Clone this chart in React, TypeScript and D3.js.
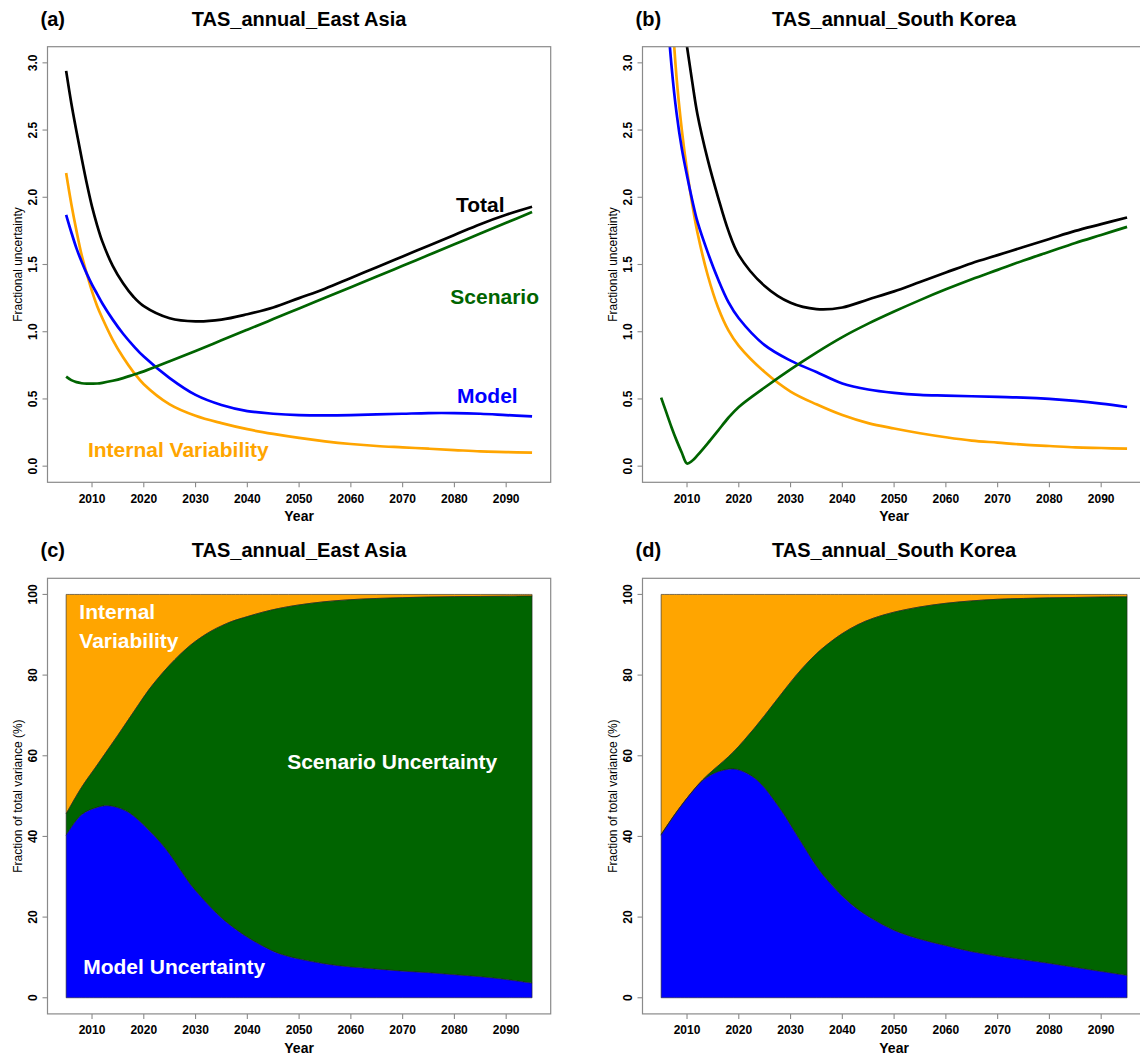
import React from "react";
import * as d3 from "d3";

// ---- Data -----------------------------------------------------------------

// Years at which the fractional-uncertainty curves are sampled
const LINE_YEARS = [
  2005, 2006, 2007, 2008, 2009, 2010, 2011, 2012, 2014, 2016, 2018, 2020, 2025,
  2030, 2035, 2040, 2045, 2050, 2055, 2060, 2065, 2070, 2075, 2080, 2085, 2090, 2095,
];

// East Asia, fractional uncertainty
const EA_TOTAL = [2.94, 2.7, 2.49, 2.29, 2.1, 1.93, 1.79, 1.67, 1.49, 1.36, 1.26, 1.19, 1.1, 1.077, 1.09, 1.13, 1.18, 1.25, 1.32, 1.4, 1.48, 1.56, 1.64, 1.72, 1.8, 1.87, 1.93];
const EA_INTERNAL = [2.18, 1.95, 1.75, 1.57, 1.43, 1.3, 1.19, 1.1, 0.94, 0.81, 0.7, 0.61, 0.46, 0.375, 0.32, 0.275, 0.24, 0.21, 0.185, 0.165, 0.15, 0.14, 0.13, 0.12, 0.11, 0.105, 0.1];
const EA_MODEL = [1.87, 1.74, 1.62, 1.52, 1.43, 1.35, 1.28, 1.21, 1.09, 0.985, 0.895, 0.815, 0.655, 0.53, 0.455, 0.41, 0.39, 0.38, 0.378, 0.38, 0.385, 0.39, 0.395, 0.395, 0.39, 0.38, 0.37];
const EA_SCENARIO = [0.666, 0.64, 0.625, 0.617, 0.614, 0.614, 0.615, 0.62, 0.635, 0.655, 0.68, 0.705, 0.78, 0.857, 0.936, 1.015, 1.094, 1.173, 1.252, 1.331, 1.41, 1.49, 1.57, 1.65, 1.73, 1.81, 1.89];

// South Korea, fractional uncertainty
const SK_TOTAL = [7.2, 5.6, 4.55, 3.8, 3.4, 3.12, 2.86, 2.62, 2.28, 2.0, 1.75, 1.57, 1.34, 1.215, 1.168, 1.18, 1.24, 1.3, 1.37, 1.44, 1.51, 1.57, 1.63, 1.69, 1.75, 1.8, 1.85];
const SK_INTERNAL = [5.5, 4.3, 3.45, 2.88, 2.5, 2.2, 1.95, 1.74, 1.42, 1.18, 1.01, 0.895, 0.7, 0.555, 0.46, 0.38, 0.32, 0.28, 0.245, 0.215, 0.19, 0.175, 0.16, 0.15, 0.14, 0.135, 0.13];
const SK_MODEL = [4.6, 3.5, 2.98, 2.62, 2.36, 2.16, 1.98, 1.82, 1.59, 1.39, 1.22, 1.1, 0.9, 0.785, 0.7, 0.615, 0.57, 0.545, 0.53, 0.525, 0.52, 0.515, 0.51, 0.5, 0.485, 0.465, 0.44];
const SK_SCENARIO = [0.51, 0.4, 0.29, 0.19, 0.1, 0.02, 0.04, 0.08, 0.17, 0.265, 0.36, 0.44, 0.585, 0.72, 0.845, 0.96, 1.06, 1.15, 1.235, 1.315, 1.39, 1.46, 1.53, 1.595, 1.66, 1.72, 1.78];

// Years at which the variance fractions are sampled
const SHARE_YEARS = [
  2005, 2008, 2011, 2013, 2015, 2017, 2019, 2021, 2023, 2025, 2027, 2029, 2031, 2033,
  2035, 2037, 2040, 2043, 2046, 2050, 2055, 2060, 2065, 2070, 2075, 2080, 2085, 2090, 2095,
];

// East Asia, fraction of total variance (%)
const EA_MODEL_PCT = [40.3, 45.4, 47.2, 47.6, 47.1, 46.0, 44.0, 41.5, 38.8, 35.6, 31.8, 28.1, 25.1, 22.3, 19.8, 17.7, 15.0, 12.8, 11.0, 9.6, 8.4, 7.6, 7.1, 6.6, 6.2, 5.7, 5.2, 4.5, 3.6];
const EA_SCENARIO_PCT = [5.3, 6.8, 10.5, 13.8, 18.0, 22.9, 28.7, 34.9, 40.8, 46.9, 53.3, 59.3, 64.2, 68.6, 72.4, 75.6, 79.5, 82.8, 85.5, 87.8, 89.8, 91.1, 91.9, 92.6, 93.15, 93.75, 94.3, 95.05, 96.0];
const EA_INTERNAL_PCT = [54.4, 47.8, 42.3, 38.6, 34.9, 31.1, 27.3, 23.6, 20.4, 17.5, 14.9, 12.6, 10.7, 9.1, 7.8, 6.7, 5.5, 4.4, 3.5, 2.6, 1.8, 1.3, 1.0, 0.8, 0.65, 0.55, 0.5, 0.45, 0.4];

// South Korea, fraction of total variance (%)
const SK_MODEL_PCT = [40.3, 46.0, 51.0, 53.8, 55.5, 56.4, 56.7, 56.0, 54.5, 52.0, 48.6, 44.9, 40.7, 36.6, 32.6, 29.3, 25.2, 21.9, 19.4, 16.7, 14.5, 12.9, 11.4, 10.3, 9.4, 8.5, 7.5, 6.5, 5.5];
const SK_SCENARIO_PCT = [0.2, 0.1, 0.1, 0.2, 0.9, 2.2, 4.3, 7.8, 12.3, 18.0, 24.7, 31.7, 39.1, 46.1, 52.7, 58.2, 65.1, 70.6, 74.7, 78.9, 82.4, 84.9, 87.0, 88.5, 89.6, 90.65, 91.75, 92.85, 93.9];
const SK_INTERNAL_PCT = [59.5, 53.9, 48.9, 46.0, 43.6, 41.4, 39.0, 36.2, 33.2, 30.0, 26.7, 23.4, 20.2, 17.3, 14.7, 12.5, 9.7, 7.5, 5.9, 4.4, 3.1, 2.2, 1.6, 1.2, 1.0, 0.85, 0.75, 0.65, 0.6];

// Axis ticks
const X_TICKS = [2010, 2020, 2030, 2040, 2050, 2060, 2070, 2080, 2090];
const Y_TICKS_FRAC = [0, 0.5, 1, 1.5, 2, 2.5, 3];
const Y_TICKS_PCT = [0, 20, 40, 60, 80, 100];

// ---- Styling & layout -------------------------------------------------------

const C_INTERNAL = "#FFA500";
const C_MODEL = "#0000FF";
const C_SCENARIO = "#006400";
const C_TOTAL = "#000000";
const AXIS = "#8a8a8a";
const FONT = "'Liberation Sans', Arial, Helvetica, sans-serif";

const PW = 503.2;
const PH = 435.6;
const COL = [47.5, 642.5];
const ROW = [46.7, 578.3];

// R-style axis extent: data range padded by 4% on each side
const X_DOMAIN: [number, number] = [2001.4, 2098.6];
const Y_FRAC_DOMAIN: [number, number] = [-0.12, 3.12];
const Y_PCT_DOMAIN: [number, number] = [-4, 104];

const CURVE = d3.curveCatmullRom.alpha(0.5);

type FrameProps = {
  left: number;
  top: number;
  x: d3.ScaleLinear<number, number>;
  y: d3.ScaleLinear<number, number>;
  yTicks: number[];
  yFmt: (v: number) => string;
  yTitle: string;
  tag: string;
  title: string;
  clipId: string;
  children?: React.ReactNode;
};

function Frame({ left, top, x, y, yTicks, yFmt, yTitle, tag, title, clipId, children }: FrameProps) {
  const right = left + PW;
  const bottom = top + PH;
  return (
    <g>
      <defs>
        <clipPath id={clipId}>
          <rect x={left} y={top} width={PW} height={PH} />
        </clipPath>
      </defs>
      <g clipPath={`url(#${clipId})`}>{children}</g>
      <rect x={left} y={top} width={PW} height={PH} fill="none" stroke={AXIS} strokeWidth={1.2} />
      {X_TICKS.map((t) => (
        <g key={t}>
          <line x1={x(t)} x2={x(t)} y1={bottom} y2={bottom + 5} stroke={AXIS} strokeWidth={1.1} />
          <text x={x(t)} y={bottom + 20.5} textAnchor="middle" fontWeight="bold" fontSize={12}>
            {t}
          </text>
        </g>
      ))}
      <text x={(left + right) / 2} y={bottom + 39} textAnchor="middle" fontWeight="bold" fontSize={14}>
        Year
      </text>
      {yTicks.map((t) => (
        <g key={t}>
          <line x1={left - 5} x2={left} y1={y(t)} y2={y(t)} stroke={AXIS} strokeWidth={1.1} />
          <text
            transform={`translate(${left - 10.2},${y(t)}) rotate(-90)`}
            textAnchor="middle"
            fontWeight="bold"
            fontSize={12}
          >
            {yFmt(t)}
          </text>
        </g>
      ))}
      <text transform={`translate(${left - 26},${(top + bottom) / 2}) rotate(-90)`} textAnchor="middle" fontSize={12}>
        {yTitle}
      </text>
      <text x={left - 7} y={top - 21} fontWeight="bold" fontSize={20}>
        ({tag})
      </text>
      <text x={(left + right) / 2} y={top - 21} textAnchor="middle" fontWeight="bold" fontSize={20}>
        {title}
      </text>
    </g>
  );
}

type LineSeries = { values: number[]; color: string };

function LinePanel({
  left,
  top,
  tag,
  title,
  series,
  labels,
}: {
  left: number;
  top: number;
  tag: string;
  title: string;
  series: LineSeries[];
  labels?: { text: string; year: number; value: number; color: string }[];
}) {
  const x = d3.scaleLinear().domain(X_DOMAIN).range([left, left + PW]);
  const y = d3.scaleLinear().domain(Y_FRAC_DOMAIN).range([top + PH, top]);
  const line = d3
    .line<number>()
    .x((_, i) => x(LINE_YEARS[i]))
    .y((v) => y(v))
    .curve(CURVE);
  return (
    <Frame
      left={left}
      top={top}
      x={x}
      y={y}
      yTicks={Y_TICKS_FRAC}
      yFmt={(v) => v.toFixed(1)}
      yTitle="Fractional uncertainty"
      tag={tag}
      title={title}
      clipId={`clip-${tag}`}
    >
      {series.map((s, i) => (
        <path key={i} d={line(s.values) || ""} fill="none" stroke={s.color} strokeWidth={2.7} strokeLinejoin="round" />
      ))}
      {(labels || []).map((l) => (
        <text key={l.text} x={x(l.year)} y={y(l.value)} fill={l.color} fontWeight="bold" fontSize={21}>
          {l.text}
        </text>
      ))}
    </Frame>
  );
}

function SharePanel({
  left,
  top,
  tag,
  title,
  model,
  scenario,
  internal,
  labels,
}: {
  left: number;
  top: number;
  tag: string;
  title: string;
  model: number[];
  scenario: number[];
  internal: number[];
  labels?: { text: string; year: number; value: number }[];
}) {
  const x = d3.scaleLinear().domain(X_DOMAIN).range([left, left + PW]);
  const y = d3.scaleLinear().domain(Y_PCT_DOMAIN).range([top + PH, top]);
  const rows = SHARE_YEARS.map((yr, i) => ({ year: yr, model: model[i], scenario: scenario[i], internal: internal[i] }));
  const keys = ["model", "scenario", "internal"];
  const colors: Record<string, string> = { model: C_MODEL, scenario: C_SCENARIO, internal: C_INTERNAL };
  const stacked = d3.stack<any>().keys(keys)(rows);
  const area = d3
    .area<any>()
    .x((d) => x(d.data.year))
    .y0((d) => y(d[0]))
    .y1((d) => y(d[1]))
    .curve(CURVE);
  return (
    <Frame
      left={left}
      top={top}
      x={x}
      y={y}
      yTicks={Y_TICKS_PCT}
      yFmt={(v) => String(v)}
      yTitle="Fraction of total variance (%)"
      tag={tag}
      title={title}
      clipId={`clip-${tag}`}
    >
      {stacked
        .slice()
        .reverse()
        .map((layer) => (
          <path
            key={layer.key}
            d={area(layer) || ""}
            fill={colors[layer.key]}
            stroke="#222"
            strokeWidth={0.6}
            strokeLinejoin="round"
          />
        ))}
      {(labels || []).map((l) => (
        <text key={l.text} x={x(l.year)} y={y(l.value)} fill="#ffffff" fontWeight="bold" fontSize={21}>
          {l.text}
        </text>
      ))}
    </Frame>
  );
}

export default function App() {
  return (
    <div style={{ position: "absolute", left: 0, top: 0 }}>
      <svg width={1140} height={1056} style={{ display: "block", background: "#ffffff" }} fontFamily={FONT}>
        <rect x={0} y={0} width={1140} height={1056} fill="#ffffff" />
        <LinePanel
          left={COL[0]}
          top={ROW[0]}
          tag="a"
          title="TAS_annual_East Asia"
          series={[
            { values: EA_INTERNAL, color: C_INTERNAL },
            { values: EA_MODEL, color: C_MODEL },
            { values: EA_SCENARIO, color: C_SCENARIO },
            { values: EA_TOTAL, color: C_TOTAL },
          ]}
          labels={[
            { text: "Total", year: 2080.3, value: 1.89, color: C_TOTAL },
            { text: "Scenario", year: 2079.2, value: 1.205, color: C_SCENARIO },
            { text: "Model", year: 2080.5, value: 0.467, color: C_MODEL },
            { text: "Internal Variability", year: 2009.2, value: 0.065, color: C_INTERNAL },
          ]}
        />
        <LinePanel
          left={COL[1]}
          top={ROW[0]}
          tag="b"
          title="TAS_annual_South Korea"
          series={[
            { values: SK_INTERNAL, color: C_INTERNAL },
            { values: SK_MODEL, color: C_MODEL },
            { values: SK_SCENARIO, color: C_SCENARIO },
            { values: SK_TOTAL, color: C_TOTAL },
          ]}
        />
        <SharePanel
          left={COL[0]}
          top={ROW[1]}
          tag="c"
          title="TAS_annual_East Asia"
          model={EA_MODEL_PCT}
          scenario={EA_SCENARIO_PCT}
          internal={EA_INTERNAL_PCT}
          labels={[
            { text: "Internal", year: 2007.55, value: 93.8 },
            { text: "Variability", year: 2007.55, value: 86.8 },
            { text: "Scenario Uncertainty", year: 2047.7, value: 56.6 },
            { text: "Model Uncertainty", year: 2008.3, value: 5.9 },
          ]}
        />
        <SharePanel
          left={COL[1]}
          top={ROW[1]}
          tag="d"
          title="TAS_annual_South Korea"
          model={SK_MODEL_PCT}
          scenario={SK_SCENARIO_PCT}
          internal={SK_INTERNAL_PCT}
        />
      </svg>
    </div>
  );
}
